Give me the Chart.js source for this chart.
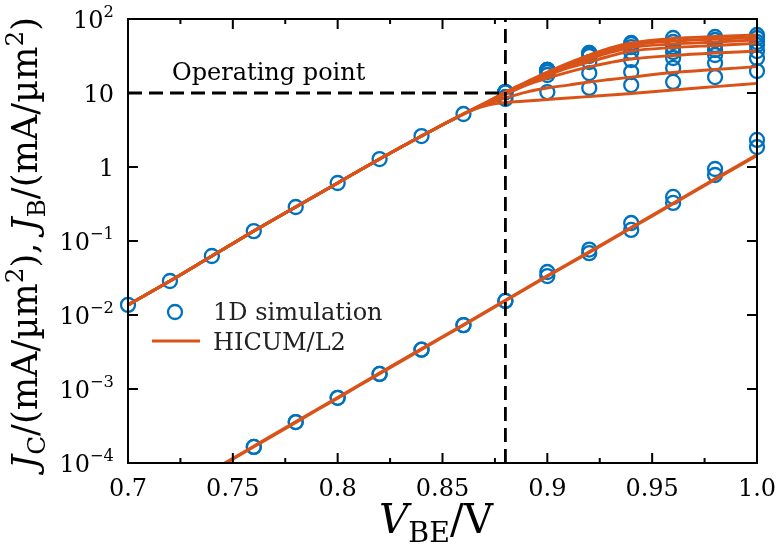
<!DOCTYPE html>
<html>
<head>
<meta charset="utf-8">
<title>Gummel plot</title>
<script src="https://cdn.jsdelivr.net/npm/chart.js@4.4.1/dist/chart.umd.min.js"></script>
<style>
  html, body { margin: 0; padding: 0; background: #fff; }
  #chart { display: block; }
</style>
</head>
<body>
<canvas id="chart" width="778" height="548"></canvas>
<script>
// ---- data (J in mA/um^2, V_BE in V) ----
// collector current, shared part of all V_CE curves
const vbeLow = [0.70, 0.72, 0.74, 0.76, 0.78, 0.80, 0.82, 0.84, 0.86];
const jcSimLow = [0.0137, 0.0288, 0.0627, 0.136, 0.288, 0.608, 1.28, 2.62, 5.2];
const jcLineLow = [0.0137, 0.0288, 0.0627, 0.136, 0.288, 0.608, 1.28, 2.62, 5.2];

// 1D simulation, high injection, one row per V_CE
const vbeSimHigh = [0.88, 0.90, 0.92, 0.94, 0.96, 0.98, 1.00];
const jcSim1 = [8.30, 10.3, 11.7, 12.8, 14.1, 16.4, 19.8];
const jcSim2 = [8.83, 17.5, 18.6, 19.2, 21.8, 25.4, 29.7];
const jcSim3 = [10.3, 19.2, 26.2, 27.9, 29.7, 32.6, 36.9];
const jcSim4 = [10.3, 20.5, 31.6, 35.8, 35.8, 38.1, 44.5];
const jcSim5 = [10.3, 20.5, 33.7, 41.8, 41.8, 44.5, 48.9];
const jcSim6 = [10.3, 20.5, 34.7, 45.9, 48.9, 52.0, 55.4];
const jcSim7 = [10.3, 20.5, 34.7, 47.4, 55.4, 57.1, 60.8];

// HICUM/L2, high injection
const vbeLineHigh = [0.87, 0.88, 0.89, 0.90, 0.91, 0.92, 0.93, 0.94, 0.96, 0.98, 1.00];
const jcLine1 = [6.67, 7.44, 7.79, 8.17, 8.56, 8.97, 9.40, 9.84, 11.0, 12.2, 13.5];
const jcLine2 = [6.88, 8.56, 10.3, 11.7, 12.8, 14.1, 15.2, 16.4, 18.9, 20.8, 22.7];
const jcLine3 = [7.21, 9.54, 12.8, 15.9, 19.2, 22.5, 25.8, 28.8, 32.1, 34.7, 36.9];
const jcLine4 = [7.21, 9.84, 13.2, 17.2, 21.8, 26.2, 31.6, 36.9, 41.2, 43.9, 46.9];
const jcLine5 = [7.21, 10.0, 13.6, 18.1, 23.2, 28.8, 35.3, 41.2, 45.9, 48.9, 52.0];
const jcLine6 = [7.21, 10.2, 13.9, 18.6, 24.3, 30.7, 38.1, 44.5, 50.4, 53.7, 55.9];
const jcLine7 = [7.21, 10.3, 14.1, 19.2, 25.4, 32.6, 40.6, 47.4, 54.5, 58.0, 60.8];

// base current
const vbeJbSim = [0.76, 0.78, 0.80, 0.82, 0.84, 0.86, 0.88, 0.90, 0.92, 0.94, 0.96, 0.98, 1.00];
const jbSimA = [1.65e-4, 3.57e-4, 7.6e-4, 1.6e-3, 3.4e-3, 7.3e-3, 0.0155, 0.0336, 0.0685, 0.141, 0.327, 0.78, 1.86];
const jbSimB = [1.65e-4, 3.57e-4, 7.6e-4, 1.6e-3, 3.4e-3, 7.3e-3, 0.0155, 0.0381, 0.0765, 0.175, 0.394, 0.94, 2.32];
const vbeJbLine = [0.74, 0.76, 0.78, 0.80, 0.82, 0.84, 0.86, 0.88, 0.90, 0.92, 0.94, 0.96, 0.98, 1.00];
const jbLine = [7.8e-5, 1.67e-4, 3.57e-4, 7.6e-4, 1.625e-3, 3.46e-3, 7.33e-3, 0.0157, 0.0336, 0.0706, 0.151, 0.321, 0.686, 1.45];

// operating point
const opVbe = 0.88;
const opJc = 10;

// axes
const xMin = 0.7, xMax = 1.0;
const yMin = 1e-4, yMax = 100;
const xTicks = [0.7, 0.75, 0.8, 0.85, 0.9, 0.95, 1.0];
const xTickLabels = ['0.7', '0.75', '0.8', '0.85', '0.9', '0.95', '1.0'];
const xMinorTicks = [0.725, 0.775, 0.825, 0.875, 0.925, 0.975];
const yTicks = [100, 10, 1, 0.1, 0.01, 0.001, 0.0001];
const yTickLabels = ['10^2', '10', '1', '10^−1', '10^−2', '10^−3', '10^−4'];

const BLUE = '#0072BD';
const ORANGE = '#D95319';
const SERIF = '"DejaVu Serif", serif';

const pts = (xs, ys) => xs.map((x, i) => ({ x: x, y: ys[i] }));

const simRows = [jcSim1, jcSim2, jcSim3, jcSim4, jcSim5, jcSim6, jcSim7];
const lineRows = [jcLine1, jcLine2, jcLine3, jcLine4, jcLine5, jcLine6, jcLine7];

const markerStyle = {
    showLine: false,
    pointRadius: 7,
    pointHoverRadius: 7,
    pointBorderWidth: 2.3,
    pointBackgroundColor: 'rgba(0,0,0,0)',
    pointBorderColor: BLUE,
    clip: false,
    order: 2
};
const lineStyle = {
    borderColor: ORANGE,
    borderWidth: 2.9,
    pointRadius: 0,
    cubicInterpolationMode: 'monotone',
    fill: false,
    order: 1
};

const datasets = [];
datasets.push({ label: '1D simulation', data: pts(vbeLow, jcSimLow), ...markerStyle });
simRows.forEach((row, i) => {
    datasets.push({ label: 'sim ' + (i + 1), data: pts(vbeSimHigh, row), ...markerStyle });
});
datasets.push({ label: 'sim JB a', data: pts(vbeJbSim, jbSimA), ...markerStyle });
datasets.push({ label: 'sim JB b', data: pts(vbeJbSim, jbSimB), ...markerStyle });

lineRows.forEach((row, i) => {
    datasets.push({
        label: i === 0 ? 'HICUM/L2' : 'model ' + (i + 1),
        data: pts(vbeLow.concat(vbeLineHigh), jcLineLow.concat(row)),
        ...lineStyle
    });
});
datasets.push({ label: 'model JB', data: pts(vbeJbLine, jbLine), ...lineStyle, borderWidth: 3.6 });

// dashed guides through the operating point
const dashStyle = { borderColor: '#000', borderWidth: 2.8, borderDash: [14, 7], pointRadius: 0, order: 0 };
datasets.push({ label: 'op h', data: [{ x: xMin, y: opJc }, { x: opVbe, y: opJc }], ...dashStyle });
datasets.push({ label: 'op v', data: [{ x: opVbe, y: yMin }, { x: opVbe, y: yMax }], ...dashStyle });

// ---- text helpers ----
function setFont(ctx, size, italic) {
    ctx.font = (italic ? 'italic ' : '') + size + 'px ' + SERIF;
}
function richWidth(ctx, parts, size) {
    let w = 0;
    parts.forEach(p => {
        setFont(ctx, size * (p.s || 1), p.i);
        w += ctx.measureText(p.t).width;
    });
    return w;
}
function drawRich(ctx, parts, size, x, y, align) {
    const w = richWidth(ctx, parts, size);
    let cx = align === 'right' ? x - w : align === 'center' ? x - w / 2 : x;
    parts.forEach(p => {
        setFont(ctx, size * (p.s || 1), p.i);
        ctx.fillText(p.t, cx, y + (p.dy || 0) * size);
        cx += ctx.measureText(p.t).width;
    });
}
function powerLabel(str) {
    const bits = str.split('^');
    const parts = [{ t: bits[0] }];
    if (bits[1]) parts.push({ t: bits[1], s: 0.68, dy: -0.42 });
    return parts;
}

const sub = t => ({ t: t, s: 0.7, dy: 0.22 });
const sup = t => ({ t: t, s: 0.7, dy: -0.4 });
const yTitle = [
    { t: 'J', i: true }, sub('C'), { t: '/(mA/µm' }, sup('2'), { t: '), ' },
    { t: 'J', i: true }, sub('B'), { t: '/(mA/µm' }, sup('2'), { t: ')' }
];
const xTitle = [{ t: 'V', i: true }, sub('BE'), { t: '/V' }];

const framePlugin = {
    id: 'frame',
    afterDraw(chart) {
        const ctx = chart.ctx;
        const a = chart.chartArea;
        const xs = chart.scales.x, ys = chart.scales.y;
        ctx.save();
        ctx.fillStyle = '#000';
        ctx.strokeStyle = '#000';
        ctx.lineWidth = 2;
        ctx.setLineDash([]);
        ctx.strokeRect(a.left, a.top, a.right - a.left, a.bottom - a.top);

        // inward ticks on all four sides
        ctx.beginPath();
        xTicks.forEach(v => {
            const p = xs.getPixelForValue(v);
            ctx.moveTo(p, a.bottom); ctx.lineTo(p, a.bottom - 10);
            ctx.moveTo(p, a.top); ctx.lineTo(p, a.top + 10);
        });
        xMinorTicks.forEach(v => {
            const p = xs.getPixelForValue(v);
            ctx.moveTo(p, a.bottom); ctx.lineTo(p, a.bottom - 5);
            ctx.moveTo(p, a.top); ctx.lineTo(p, a.top + 5);
        });
        yTicks.forEach(v => {
            const p = ys.getPixelForValue(v);
            ctx.moveTo(a.left, p); ctx.lineTo(a.left + 10, p);
            ctx.moveTo(a.right, p); ctx.lineTo(a.right - 10, p);
        });
        ctx.stroke();

        // tick labels
        ctx.textBaseline = 'alphabetic';
        xTicks.forEach((v, i) => {
            drawRich(ctx, [{ t: xTickLabels[i] }], 24, xs.getPixelForValue(v), a.bottom + 33, 'center');
        });
        yTicks.forEach((v, i) => {
            drawRich(ctx, powerLabel(yTickLabels[i]), 24, a.left - 14, ys.getPixelForValue(v) + 8.5, 'right');
        });

        // axis titles
        const xs0 = 28 * 114 / richWidth(ctx, xTitle, 28);
        drawRich(ctx, xTitle, xs0, 436, 533, 'center');
        const ys0 = 30 * 452 / richWidth(ctx, yTitle, 30);
        ctx.save();
        ctx.translate(37, 243);
        ctx.rotate(-Math.PI / 2);
        drawRich(ctx, yTitle, ys0, 0, 0, 'center');
        ctx.restore();

        // annotation
        drawRich(ctx, [{ t: 'Operating point' }], 24, 172, 80, 'left');

        // legend
        ctx.beginPath();
        ctx.lineWidth = 2.3;
        ctx.strokeStyle = BLUE;
        ctx.arc(175, 312, 7, 0, Math.PI * 2);
        ctx.stroke();
        ctx.beginPath();
        ctx.lineWidth = 2.9;
        ctx.strokeStyle = ORANGE;
        ctx.moveTo(152, 341);
        ctx.lineTo(200, 341);
        ctx.stroke();
        ctx.fillStyle = '#222';
        drawRich(ctx, [{ t: '1D simulation' }], 24, 213, 320, 'left');
        drawRich(ctx, [{ t: 'HICUM/L2' }], 24, 213, 350, 'left');
        ctx.restore();
    }
};

new Chart(document.getElementById('chart').getContext('2d'), {
    type: 'line',
    data: { datasets: datasets },
    options: {
        responsive: false,
        animation: false,
        devicePixelRatio: 1,
        layout: { padding: { left: 128, right: 21, top: 19, bottom: 85 } },
        plugins: { legend: { display: false }, tooltip: { enabled: false } },
        scales: {
            x: { type: 'linear', min: xMin, max: xMax, display: false },
            y: { type: 'logarithmic', min: yMin, max: yMax, display: false }
        }
    },
    plugins: [framePlugin]
});
</script>
</body>
</html>
